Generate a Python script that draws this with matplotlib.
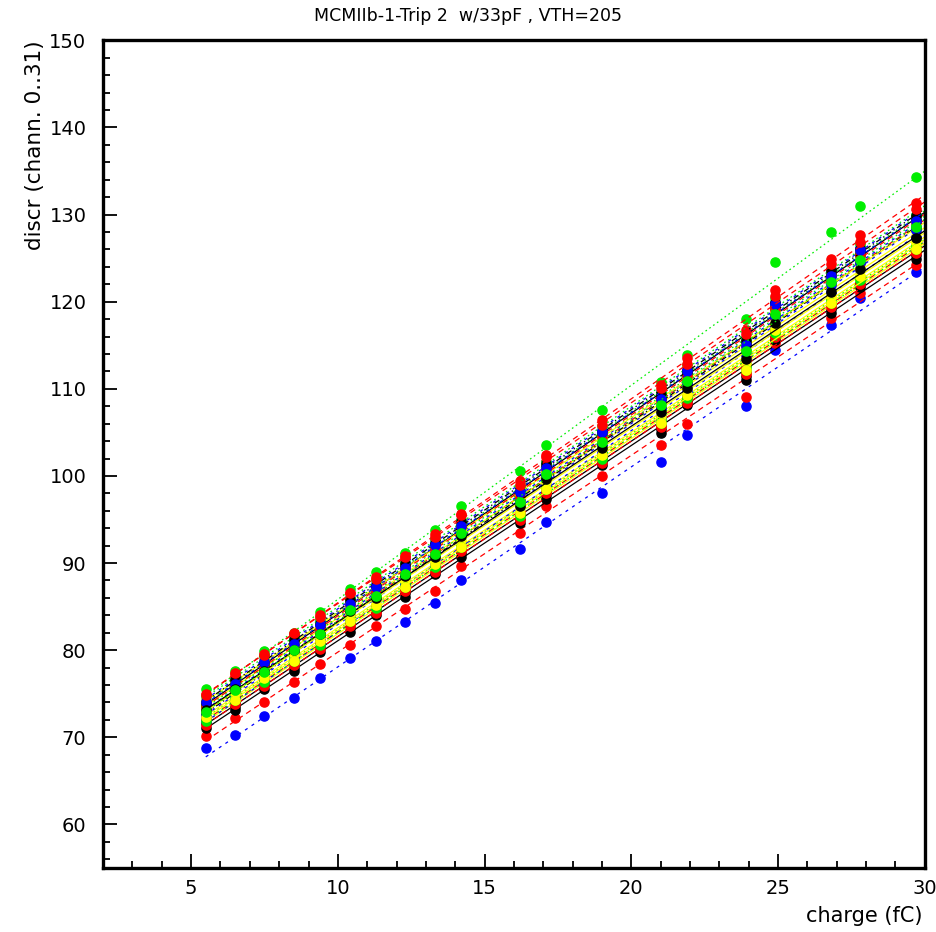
#!/usr/bin/env python3
import numpy as np
import matplotlib
matplotlib.use('Agg')
import matplotlib.pyplot as plt
from matplotlib.ticker import MultipleLocator

# injected charge (fC) for each calibration step
charge = [5.5, 6.5, 7.5, 8.5, 9.4, 10.4, 11.3, 12.3, 13.3, 14.2,
          16.2, 17.1, 19.0, 21.0, 21.9, 23.9, 24.9, 26.8, 27.8, 29.7]

# discriminator threshold per channel
ch0 = [73.1, 75.2, 77.7, 79.8, 82.0, 84.4, 86.4, 88.5, 91.2, 93.3, 97.2, 100.0, 104.1, 107.9, 111.1, 114.0, 118.8, 122.1, 125.0, 128.4]
ch1 = [75.5, 77.6, 79.9, 82.0, 84.4, 87.0, 89.0, 91.2, 93.8, 96.5, 100.6, 103.6, 107.6, 110.8, 113.9, 118.0, 124.6, 128.0, 131.0, 134.3]
ch2 = [68.8, 70.3, 72.4, 74.5, 76.8, 79.1, 81.1, 83.2, 85.4, 88.0, 91.6, 94.7, 98.0, 101.6, 104.7, 108.0, 114.4, 117.3, 120.4, 123.4]
ch3 = [72.4, 74.8, 76.9, 79.3, 81.1, 83.8, 85.3, 87.8, 90.0, 92.4, 95.9, 99.0, 102.5, 106.6, 109.4, 112.7, 116.9, 120.4, 123.0, 126.6]
ch4 = [71.6, 73.5, 76.1, 78.0, 80.3, 82.6, 84.5, 86.6, 89.2, 91.2, 95.1, 97.8, 101.7, 105.4, 108.6, 111.5, 116.1, 119.2, 122.2, 125.4]
ch5 = [70.2, 72.2, 74.0, 76.3, 78.4, 80.6, 82.8, 84.7, 86.8, 89.7, 93.5, 96.5, 100.0, 103.5, 106.0, 109.1, 115.3, 118.1, 121.0, 124.2]
ch6 = [74.1, 76.2, 78.7, 80.8, 83.0, 85.4, 87.4, 89.5, 92.2, 94.3, 98.2, 101.0, 105.1, 108.9, 112.1, 115.1, 119.8, 123.1, 126.0, 129.4]
ch7 = [74.3, 76.8, 78.9, 81.4, 83.2, 86.0, 87.6, 90.1, 92.4, 94.9, 98.4, 101.6, 105.3, 109.5, 112.3, 115.7, 120.0, 123.7, 126.2, 130.0]
ch8 = [73.7, 75.7, 78.2, 80.2, 82.4, 84.7, 86.6, 88.7, 91.3, 93.3, 97.2, 99.9, 103.8, 107.5, 110.7, 113.6, 118.2, 121.3, 124.3, 127.5]
ch9 = [72.7, 75.2, 77.3, 79.8, 81.6, 84.4, 86.0, 88.5, 90.8, 93.3, 96.8, 100.0, 103.7, 107.9, 110.7, 114.1, 118.4, 122.1, 124.6, 128.4]
ch10 = [75.0, 77.3, 79.6, 81.9, 84.0, 86.6, 88.4, 90.8, 93.3, 95.6, 99.4, 102.4, 106.4, 110.4, 113.5, 116.8, 121.4, 124.9, 127.7, 131.3]
ch11 = [72.2, 74.6, 76.7, 79.1, 80.9, 83.6, 85.1, 87.6, 89.8, 92.2, 95.7, 98.8, 102.3, 106.4, 109.2, 112.5, 116.7, 120.2, 122.8, 126.4]
ch12 = [73.3, 75.4, 77.9, 80.0, 82.2, 84.6, 86.6, 88.7, 91.4, 93.5, 97.4, 100.2, 104.3, 108.1, 111.3, 114.3, 119.0, 122.3, 125.2, 128.6]
ch13 = [71.9, 73.9, 76.4, 78.4, 80.6, 82.9, 84.8, 86.9, 89.5, 91.5, 95.4, 98.1, 102.0, 105.7, 108.9, 111.8, 116.4, 119.5, 122.5, 125.7]
ch14 = [73.7, 76.2, 78.3, 80.8, 82.6, 85.4, 87.0, 89.5, 91.8, 94.3, 97.8, 101.0, 104.7, 108.9, 111.7, 115.1, 119.4, 123.1, 125.6, 129.4]
ch15 = [72.1, 74.1, 76.6, 78.6, 80.8, 83.1, 85.0, 87.1, 89.7, 91.7, 95.6, 98.3, 102.2, 105.9, 109.1, 112.0, 116.6, 119.7, 122.7, 125.9]
ch16 = [73.5, 75.6, 78.1, 80.2, 82.4, 84.8, 86.8, 88.9, 91.6, 93.7, 97.6, 100.4, 104.5, 108.3, 111.5, 114.5, 119.2, 122.5, 125.4, 128.8]
ch17 = [71.7, 74.2, 76.3, 78.8, 80.6, 83.4, 85.0, 87.5, 89.8, 92.3, 95.8, 99.0, 102.7, 106.9, 109.7, 113.1, 117.4, 121.1, 123.6, 127.4]
ch18 = [74.3, 76.3, 78.8, 80.8, 83.0, 85.3, 87.2, 89.3, 91.9, 93.9, 97.8, 100.5, 104.4, 108.1, 111.3, 114.2, 118.8, 121.9, 124.9, 128.1]
ch19 = [71.1, 73.1, 75.6, 77.6, 79.8, 82.1, 84.0, 86.1, 88.7, 90.7, 94.6, 97.3, 101.2, 104.9, 108.1, 111.0, 115.6, 118.7, 121.7, 124.9]
ch20 = [73.5, 76.0, 78.1, 80.6, 82.4, 85.2, 86.8, 89.3, 91.6, 94.1, 97.6, 100.8, 104.5, 108.7, 111.5, 114.9, 119.2, 122.9, 125.4, 129.2]
ch21 = [74.7, 76.8, 79.3, 81.4, 83.6, 86.0, 88.0, 90.1, 92.8, 94.9, 98.8, 101.6, 105.7, 109.5, 112.7, 115.7, 120.4, 123.7, 126.6, 130.0]
ch22 = [72.5, 75.0, 77.1, 79.6, 81.4, 84.2, 85.8, 88.3, 90.6, 93.1, 96.6, 99.8, 103.5, 107.7, 110.5, 113.9, 118.2, 121.9, 124.4, 128.2]
ch23 = [73.1, 75.1, 77.6, 79.6, 81.8, 84.1, 86.0, 88.1, 90.7, 92.7, 96.6, 99.3, 103.2, 106.9, 110.1, 113.0, 117.6, 120.7, 123.7, 126.9]
ch24 = [74.1, 76.6, 78.7, 81.2, 83.0, 85.8, 87.4, 89.9, 92.2, 94.7, 98.2, 101.4, 105.1, 109.3, 112.1, 115.5, 119.8, 123.5, 126.0, 129.8]
ch25 = [71.4, 73.8, 75.9, 78.3, 80.1, 82.8, 84.3, 86.8, 89.0, 91.4, 94.9, 98.0, 101.5, 105.6, 108.4, 111.7, 115.9, 119.4, 122.0, 125.6]
ch26 = [71.9, 74.3, 76.4, 78.8, 80.6, 83.3, 84.8, 87.3, 89.5, 91.9, 95.4, 98.5, 102.0, 106.1, 108.9, 112.2, 116.4, 119.9, 122.5, 126.1]
ch27 = [74.0, 76.1, 78.6, 80.7, 82.9, 85.3, 87.3, 89.4, 92.1, 94.2, 98.1, 100.9, 105.0, 108.8, 112.0, 115.0, 119.7, 123.0, 125.9, 129.3]
ch28 = [72.3, 74.3, 76.8, 78.8, 81.0, 83.3, 85.2, 87.3, 89.9, 91.9, 95.8, 98.5, 102.4, 106.1, 109.3, 112.2, 116.8, 119.9, 122.9, 126.1]
ch29 = [73.1, 75.5, 77.6, 80.0, 81.8, 84.5, 86.0, 88.5, 90.7, 93.1, 96.6, 99.7, 103.2, 107.3, 110.1, 113.4, 117.6, 121.1, 123.7, 127.3]
ch30 = [74.9, 77.4, 79.5, 82.0, 83.8, 86.6, 88.2, 90.7, 93.0, 95.5, 99.0, 102.2, 105.9, 110.1, 112.9, 116.3, 120.6, 124.3, 126.8, 130.6]
ch31 = [72.9, 75.4, 77.5, 80.0, 81.8, 84.6, 86.2, 88.7, 91.0, 93.5, 97.0, 100.2, 103.9, 108.1, 110.9, 114.3, 118.6, 122.3, 124.8, 128.6]

channels = [ch0, ch1, ch2, ch3, ch4, ch5, ch6, ch7, ch8, ch9, ch10, ch11, ch12, ch13, ch14, ch15,
            ch16, ch17, ch18, ch19, ch20, ch21, ch22, ch23, ch24, ch25, ch26, ch27, ch28, ch29, ch30, ch31]

# PAW colour cycle: red, green, blue, yellow, black
palette = ['#ff0000', '#00ee00', '#0000ff', '#ffff00', '#000000']
dash = {
    '#ff0000': (0, (4.0, 3.0)),
    '#00ee00': (0, (1.2, 2.2)),
    '#0000ff': (0, (2.2, 3.5)),
    '#ffff00': '-',
    '#000000': '-',
}
black_dashdot = {9, 24}

plt.rcParams.update({
    'font.family': 'DejaVu Sans',
    'lines.scale_dashes': False,
})

fig = plt.figure(figsize=(9.37, 9.32), dpi=100)
ax = fig.add_axes([0.110, 0.0687, 0.877, 0.888])

x = np.array(charge)
xfit = np.array([5.5, 30.0])
for i, y in enumerate(channels):
    c = palette[i % 5]
    ax.plot(x, y, 'o', color=c, ms=6.6, mec=c, zorder=2 + i * 0.01)
    p = np.polyfit(x, np.array(y), 1)
    ls = (0, (4.0, 2.0, 1.0, 2.0)) if i in black_dashdot else dash[c]
    ax.plot(xfit, np.polyval(p, xfit), color=c, lw=0.9, ls=ls, zorder=2.005 + i * 0.01)

ax.set_xlim(2, 30)
ax.set_ylim(55, 150)
ax.xaxis.set_major_locator(MultipleLocator(5))
ax.xaxis.set_minor_locator(MultipleLocator(1))
ax.yaxis.set_major_locator(MultipleLocator(10))
ax.yaxis.set_minor_locator(MultipleLocator(2))
ax.tick_params(which='both', direction='in', top=False, right=False, width=1.3)
ax.tick_params(which='major', length=10, labelsize=14)
ax.tick_params(axis='x', which='major', pad=8)
ax.tick_params(axis='y', which='major', pad=12)
ax.tick_params(which='minor', length=5)
for s in ax.spines.values():
    s.set_linewidth(2.4)

fig.text(0.5, 0.993, 'MCMIIb-1-Trip 2  w/33pF , VTH=205', ha='center', va='top', fontsize=12.5)
fig.text(0.985, 0.006, 'charge (fC)', ha='right', va='bottom', fontsize=15)
fig.text(0.037, 0.957, 'discr (chann. 0..31)', ha='center', va='top', rotation=90, fontsize=15.5)

fig.savefig('out.png', dpi=100)
